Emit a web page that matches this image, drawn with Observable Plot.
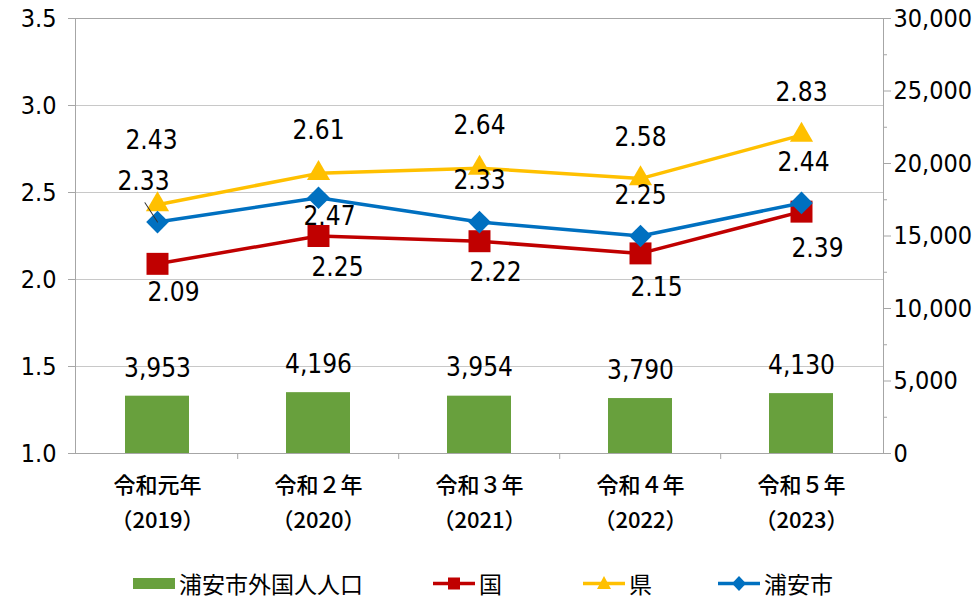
<!DOCTYPE html>
<html><head><meta charset="utf-8">
<script src="https://cdn.jsdelivr.net/npm/d3@7"></script>
<script src="https://cdn.jsdelivr.net/npm/@observablehq/plot@0.6"></script>
<style>
body{margin:0;background:#fff;}
#chart{position:relative;width:979px;height:601px;overflow:hidden;}
.legend{position:absolute;left:0;top:568px;width:979px;height:30px;font-family:"Noto Sans CJK JP",sans-serif;font-size:23px;color:#000;}
.item{position:absolute;top:0;height:30px;display:flex;align-items:center;}
.item svg{margin-right:4px;}
</style></head>
<body><div id="chart"></div>
<script>
const years = ["令和元年","令和２年","令和３年","令和４年","令和５年"];
const yearsWestern = ["（2019）","（2020）","（2021）","（2022）","（2023）"];
const population = [3953, 4196, 3954, 3790, 4130];
const kuni = [2.09, 2.25, 2.22, 2.15, 2.39];
const ken = [2.43, 2.61, 2.64, 2.58, 2.83];
const urayasu = [2.33, 2.47, 2.33, 2.25, 2.44];
const leftTicks = [1.0, 1.5, 2.0, 2.5, 3.0, 3.5];
const rightTicks = [0, 5000, 10000, 15000, 20000, 25000, 30000];
const seriesNames = ["国", "県", "浦安市"];
const popName = "浦安市外国人人口";

const numFont = '"Liberation Sans Narrow","DejaVu Sans Condensed","Roboto Condensed",sans-serif';
const cjkFont = '"Noto Sans CJK JP",sans-serif';
const colors = {"国": "#c00000", "県": "#ffc000", "浦安市": "#0070c0"};
const symbols = {"国": ["square", 12.4], "県": ["triangle", 8.6], "浦安市": ["diamond2", 10.2]};
const seriesValues = {"国": kuni, "県": ken, "浦安市": urayasu};
const popMax = rightTicks[rightTicks.length - 1];
const toLeft = p => leftTicks[0] + p / popMax * (leftTicks[leftTicks.length - 1] - leftTicks[0]);
const fromLeft = v => (v - leftTicks[0]) / (leftTicks[leftTicks.length - 1] - leftTicks[0]) * popMax;

const rows = seriesNames.flatMap(s => years.map((y, i) => ({series: s, year: y, value: seriesValues[s][i]})));
const popRows = years.map((y, i) => ({year: y, western: yearsWestern[i], pop: population[i]}));

// label placement (pixels relative to the point)
const labelOffsets = {
  "国": [[16, 29], [19, 32], [16, 31], [16, 34], [16, 37]],
  "県": [[-6, -64], [0, -43], [0, -42], [0, -41], [0, -42]],
  "浦安市": [[-14, -40], [11, 19], [0, -41], [0, -40], [2, -40]]
};

const step = (979 - 75 - 96) / 5;
const gray = "#a6a6a6";
const minorTicks = rightTicks.slice(0, -1).map((t, i) => (t + rightTicks[i + 1]) / 2);
const leaderShape = {draw(context, l) { context.moveTo(0, 0); context.lineTo(0, -l); }};

const marks = [
  Plot.gridY(leftTicks.slice(1, -1), {stroke: "#c8c8c8", strokeOpacity: 1}),
  Plot.barY(popRows, {x: "year", y1: () => leftTicks[0], y2: d => toLeft(d.pop), fill: "#68a03d"}),
  Plot.frame({stroke: gray}),
  Plot.text(popRows, {x: "year", y: d => toLeft(d.pop), text: d => d3.format(",")(d.pop), dy: -28, fontSize: 26, fontFamily: numFont}),
  Plot.ruleX(years.slice(1), {x: d => d, dx: -step / 2, y1: leftTicks[0], y2: leftTicks[0] - 6 / 174, stroke: gray}),
  Plot.axisY({anchor: "left", label: null, ticks: leftTicks, tickFormat: d3.format(".1f"), tickSize: 7, tickPadding: 12, stroke: gray, fill: "#000", fontSize: 25, fontFamily: numFont}),
  Plot.axisY({anchor: "right", label: null, ticks: rightTicks.map(toLeft), tickFormat: v => d3.format(",")(Math.round(fromLeft(v))), tickSize: 7, tickPadding: 3, stroke: gray, fill: "#000", fontSize: 25, fontFamily: numFont}),
  Plot.axisY({anchor: "right", label: null, ticks: minorTicks.map(toLeft), tickFormat: () => "", tickSize: 3, stroke: gray}),
  Plot.text(popRows, {x: "year", y: () => leftTicks[0], text: "year", dy: 32, fontSize: 22, fontWeight: 500, fontFamily: cjkFont}),
  Plot.text(popRows, {x: "year", y: () => leftTicks[0], text: "western", dy: 67, fontSize: 22, fontWeight: 500, fontFamily: cjkFont})
];
for (const s of seriesNames) {
  const data = rows.filter(d => d.series === s);
  marks.push(Plot.line(data, {x: "year", y: "value", stroke: colors[s], strokeWidth: 3.5}));
  marks.push(Plot.dot(data, {x: "year", y: "value", symbol: symbols[s][0], r: symbols[s][1], fill: colors[s], stroke: "none"}));
}
// leader line for the first 浦安市 label
marks.push(Plot.vector([rows.find(d => d.series === "浦安市")], {x: "year", y: "value", length: 23, rotate: -33, anchor: "start", shape: leaderShape, stroke: "#333", strokeWidth: 1}));
for (const s of seriesNames) {
  rows.filter(d => d.series === s).forEach((d, i) => {
    marks.push(Plot.text([d], {x: "year", y: "value", text: d => d3.format(".2f")(d.value), dx: labelOffsets[s][i][0], dy: labelOffsets[s][i][1], fontSize: 26, fontFamily: numFont}));
  });
}

const chart = Plot.plot({
  width: 979,
  height: 560,
  marginLeft: 75,
  marginRight: 96,
  marginTop: 18,
  marginBottom: 107,
  style: {background: "#fff", color: "#000", fontFamily: numFont},
  x: {domain: years, paddingInner: 0.6, paddingOuter: 0.3, axis: null},
  y: {domain: [leftTicks[0], leftTicks[leftTicks.length - 1]], axis: null},
  marks
});
const root = document.getElementById("chart");
root.appendChild(chart);

// legend
const legend = document.createElement("div");
legend.className = "legend";
const items = [
  {x: 133, label: popName, svg: `<svg width="42" height="30"><rect x="0" y="10" width="42" height="11" fill="#68a03d"/></svg>`},
  {x: 433, label: seriesNames[0], svg: `<svg width="42" height="30"><line x1="0" x2="42" y1="15.5" y2="15.5" stroke="${colors["国"]}" stroke-width="3.5"/><rect x="15" y="9.5" width="12" height="12" fill="${colors["国"]}"/></svg>`},
  {x: 583, label: seriesNames[1], svg: `<svg width="42" height="30"><line x1="0" x2="42" y1="15.5" y2="15.5" stroke="${colors["県"]}" stroke-width="3.5"/><path d="M21,8 L28,21 L14,21 Z" fill="${colors["県"]}"/></svg>`},
  {x: 718, label: seriesNames[2], svg: `<svg width="42" height="30"><line x1="0" x2="42" y1="15.5" y2="15.5" stroke="${colors["浦安市"]}" stroke-width="3.5"/><path d="M21,8 L28,15.5 L21,23 L14,15.5 Z" fill="${colors["浦安市"]}"/></svg>`}
];
for (const it of items) {
  const el = document.createElement("div");
  el.className = "item";
  el.style.left = it.x + "px";
  el.innerHTML = it.svg + `<span>${it.label}</span>`;
  legend.appendChild(el);
}
root.appendChild(legend);
</script>
</body></html>
